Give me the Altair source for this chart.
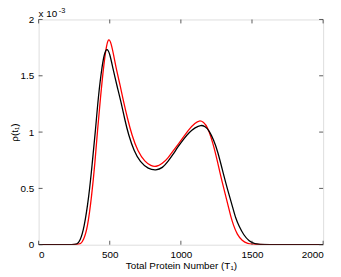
import altair as alt
import pandas as pd

black_t = [0, 250, 270, 290, 319, 354, 377, 400, 419, 447, 465, 481, 500, 523, 551, 579, 604, 632, 672, 713, 771, 826, 870, 910, 944, 980, 1020, 1060, 1100, 1141, 1170, 1199, 1230, 1257, 1303, 1326, 1368, 1384, 1410, 1442, 1480, 1520, 1560, 2000]
black_r = [0, 0, 0.005, 0.03, 0.14, 0.43, 0.725, 1.018, 1.31, 1.60, 1.71, 1.745, 1.70, 1.56, 1.41, 1.27, 1.12, 0.974, 0.827, 0.735, 0.672, 0.66, 0.68, 0.74, 0.80, 0.87, 0.94, 1.00, 1.04, 1.065, 1.05, 1.015, 0.93, 0.84, 0.608, 0.50, 0.316, 0.24, 0.16, 0.085, 0.03, 0.008, 0, 0]

red_t = [0, 270, 296, 315, 343, 373, 396, 414, 435, 458, 478, 493, 510, 528, 546, 574, 597, 625, 655, 697, 748, 790, 825, 870, 910, 944, 980, 1020, 1060, 1100, 1130, 1160, 1187, 1234, 1280, 1310, 1338, 1349, 1370, 1396, 1430, 1470, 1512, 2000]
red_r = [0, 0, 0.005, 0.04, 0.14, 0.43, 0.725, 1.018, 1.31, 1.60, 1.78, 1.835, 1.79, 1.68, 1.56, 1.41, 1.27, 1.12, 0.974, 0.827, 0.735, 0.70, 0.69, 0.72, 0.77, 0.83, 0.89, 0.96, 1.03, 1.08, 1.105, 1.09, 1.05, 0.871, 0.608, 0.46, 0.316, 0.26, 0.17, 0.09, 0.035, 0.008, 0, 0]

x_ticks = [0, 500, 1000, 1500, 2000]
y_ticks = [0, 0.5, 1, 1.5, 2]

W, H = 288, 228

df = pd.concat([
    pd.DataFrame({"t": red_t, "rho": red_r, "s": "red", "o": 0}),
    pd.DataFrame({"t": black_t, "rho": black_r, "s": "black", "o": 1}),
])

xs = alt.Scale(domain=[0, 2000], nice=False)
ys = alt.Scale(domain=[0, 2], nice=False)

FONT = "Liberation Sans"

lines = alt.Chart(df).mark_line(strokeWidth=1.3, interpolate="basis", clip=True).encode(
    x=alt.X("t:Q", scale=xs,
            axis=alt.Axis(values=x_ticks, format="d", title="Total Protein Number (T\u2081)",
                          ticks=False, domain=False, grid=False, labelPadding=5,
                          labelFontSize=10, labelFont=FONT, labelColor="#000",
                          titleFont=FONT, titleFontSize=10, titleFontWeight="normal",
                          titleColor="#000", titlePadding=1)),
    y=alt.Y("rho:Q", scale=ys,
            axis=alt.Axis(values=y_ticks, format="~g", title="\u03c1(t\u2081)",
                          ticks=False, domain=False, grid=False, labelPadding=5,
                          labelFontSize=10, labelFont=FONT, labelColor="#000",
                          titleFont=FONT, titleFontSize=10, titleFontWeight="normal",
                          titleColor="#000", titleX=-24, titleY=H / 2,
                          titleBaseline="middle", titleAlign="center")),
    color=alt.Color("s:N", scale=alt.Scale(domain=["black", "red"], range=["#000000", "#ff0000"]), legend=None),
    detail="s:N",
    order="o:Q",
)

xt = pd.DataFrame({"t": x_ticks})
yt = pd.DataFrame({"rho": y_ticks})
tick_style = dict(color="#333", strokeWidth=0.8)
xt_bot = alt.Chart(xt).mark_rule(**tick_style).encode(x=alt.X("t:Q", scale=xs), y=alt.value(H), y2=alt.value(H - 4))
xt_top = alt.Chart(xt).mark_rule(**tick_style).encode(x=alt.X("t:Q", scale=xs), y=alt.value(0), y2=alt.value(4))
yt_l = alt.Chart(yt).mark_rule(**tick_style).encode(y=alt.Y("rho:Q", scale=ys), x=alt.value(0), x2=alt.value(4))
yt_r = alt.Chart(yt).mark_rule(**tick_style).encode(y=alt.Y("rho:Q", scale=ys), x=alt.value(W), x2=alt.value(W - 4))

exp1 = alt.Chart(pd.DataFrame({"a": [1]})).mark_text(
    text="x 10", fontSize=10, font=FONT, align="left", baseline="alphabetic", color="#000"
).encode(x=alt.value(0), y=alt.value(-3))
exp2 = alt.Chart(pd.DataFrame({"a": [1]})).mark_text(
    text="-3", fontSize=7.5, font=FONT, align="left", baseline="alphabetic", color="#000"
).encode(x=alt.value(20.5), y=alt.value(-7))

chart = alt.layer(lines, xt_bot, xt_top, yt_l, yt_r, exp1, exp2).properties(
    width=W, height=H,
    autosize=alt.AutoSizeParams(type="none"),
    padding={"left": 31, "top": 10, "right": 10, "bottom": 25},
).configure_view(stroke="#333", strokeWidth=1).configure(background="white")

chart.save("out.html", embed_options={"renderer": "svg", "actions": False})
